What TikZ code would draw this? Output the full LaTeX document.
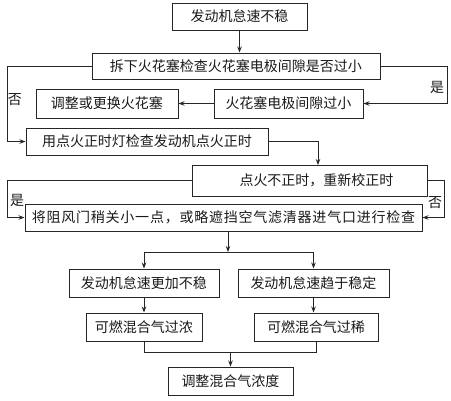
\documentclass[tikz,border=0pt]{standalone}
\usepackage{fontspec}
\setmainfont{Noto Sans CJK SC}
\newfontfamily\cjkwide[LetterSpace=5.5]{Noto Sans CJK SC}
\usetikzlibrary{arrows.meta}
\begin{document}
\begin{tikzpicture}[x=1pt,y=-1pt,
  box/.style={draw=black!85,line width=1pt,inner sep=0pt,font=\fontsize{14}{16}\selectfont,text=black!90},
  lbl/.style={inner sep=0pt,font=\fontsize{14}{16}\selectfont,text=black!90},
  conn/.style={draw=black!85,line width=0.9pt},
  arr/.style={conn,-{Stealth[length=6pt,width=4.5pt]}}]
\useasboundingbox (0,0) rectangle (451,400);
\node[box,minimum width=135pt,minimum height=27pt] (b1) at (239.5,16.5) {发动机怠速不稳};
\node[box,minimum width=288pt,minimum height=26pt] (b2) at (236,66) {拆下火花塞检查火花塞电极间隙是否过小};
\node[box,minimum width=149pt,minimum height=29pt] (b3) at (288.5,103.5) {火花塞电极间隙过小};
\node[box,minimum width=142pt,minimum height=29pt] (b3b) at (107,103.5) {调整或更换火花塞};
\node[box,minimum width=242pt,minimum height=27pt] (b4) at (147,141.5) {用点火正时灯检查发动机点火正时};
\node[box,minimum width=235pt,minimum height=31pt] (b5) at (309.5,180.5) {\hspace*{14pt}点火不正时，重新校正时};
\node[box,minimum width=397pt,minimum height=27pt] (b6) at (223.5,217.5) {\cjkwide 将阻风门稍关小一点，或略遮挡空气滤清器进气口进行检查};
\node[box,minimum width=150pt,minimum height=28pt] (b7) at (144,283) {发动机怠速更加不稳};
\node[box,minimum width=151pt,minimum height=28pt] (b8) at (313.5,283) {发动机怠速趋于稳定};
\node[box,minimum width=116pt,minimum height=28pt] (b9) at (144,327) {可燃混合气过浓};
\node[box,minimum width=124pt,minimum height=28pt] (b10) at (316,327) {可燃混合气过稀};
\node[box,minimum width=125pt,minimum height=28pt] (b11) at (230.5,381) {调整混合气浓度};
\node[lbl] (n1) at (15,100) {否};
\node[lbl] (y1) at (437,87) {是};
\node[lbl] (y2) at (17,200) {是};
\node[lbl] (n2) at (435,203) {否};
\coordinate (L1) at (7,66);
\coordinate (R1) at (447,66);
\coordinate (T5) at (318,165);
\coordinate (L2) at (7,180.5);
\coordinate (R2) at (444,180.5);
\coordinate (J1) at (228,252);
\coordinate (JL) at (144,252);
\coordinate (JR) at (313.5,252);
\coordinate (J2) at (230.5,352);
\coordinate (KL) at (144,352);
\coordinate (KR) at (316,352);
\draw[arr] (b1.south) -- (b2.north -| b1.south);
\draw[arr] (b2.west) -- (L1) |- (b4.west);
\draw[arr] (b2.east) -- (R1) |- (b3.east);
\draw[arr] (b3.west) -- (b3b.east);
\draw[arr] (b4.east) -| (T5);
\draw[arr] (b5.west) -- (L2) |- (b6.west);
\draw[arr] (b5.east) -- (R2) |- (b6.east);
\draw[arr] (b6.south -| J1) -- (J1);
\draw[conn] (JL) -- (JR);
\draw[arr] (JL) -- (b7.north);
\draw[arr] (JR) -- (b8.north);
\draw[arr] (b7.south) -- (b9.north);
\draw[arr] (b8.south) -- (b10.north -| b8.south);
\draw[conn] (b9.south) -- (KL) -- (KR) -- (b10.south);
\draw[arr] (J2) -- (b11.north);
\end{tikzpicture}
\end{document}
